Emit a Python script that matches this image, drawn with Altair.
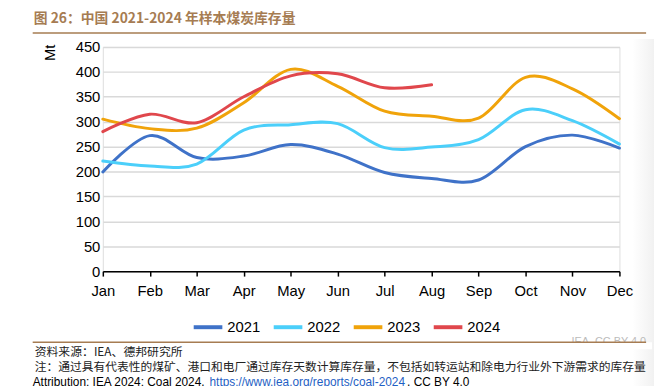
import altair as alt
import pandas as pd

months = ["Jan", "Feb", "Mar", "Apr", "May", "Jun", "Jul", "Aug", "Sep", "Oct", "Nov", "Dec"]
years = ["2021", "2022", "2023", "2024"]
v2021 = [199, 272, 228, 231, 254, 235, 198, 186, 183, 250, 273, 247]
v2022 = [221, 211, 215, 283, 294, 296, 248, 249, 264, 324, 302, 255]
v2023 = [305, 286, 287, 338, 405, 371, 321, 311, 307, 389, 366, 306]
v2024 = [280, 315, 298, 350, 392, 396, 368, 374]
colors = ["#3F72C8", "#4BCFFA", "#F0A30A", "#E0474C"]
y_ticks = [0, 50, 100, 150, 200, 250, 300, 350, 400, 450]

title_text = "图 26：中国 2021-2024 年样本煤炭库存量"
source_text = "资料来源：IEA、德邦研究所"
note_text = "注：通过具有代表性的煤矿、港口和电厂通过库存天数计算库存量，不包括如转运站和除电力行业外下游需求的库存量"
attr1 = "Attribution: IEA 2024: Coal 2024, "
attr_url = "https://www.iea.org/reports/coal-2024"
attr3 = ", CC BY 4.0"
wm_text = "IEA. CC BY 4.0"

rows = []
for yr, vals in zip(years, [v2021, v2022, v2023, v2024]):
    for m, v in zip(months, vals):
        rows.append({"month": m, "year": yr, "value": v})
df = pd.DataFrame(rows)

W, H = 523, 227
BROWN = "#A67C52"
one = pd.DataFrame({"a": [0]})

lines = alt.Chart(df).mark_line(interpolate="cardinal", strokeWidth=3, strokeCap="round").encode(
    x=alt.X("month:O", sort=months, scale=alt.Scale(type="point", padding=0),
            axis=alt.Axis(title=None, labelAngle=0, domainColor="black", domainWidth=1.5,
                          tickColor="black", tickWidth=1.5, tickSize=5, labelPadding=8,
                          grid=False, labelFontSize=15, labelFont="Liberation Sans",
                          labelColor="black", zindex=1)),
    y=alt.Y("value:Q", scale=alt.Scale(domain=[0, 450], nice=False, zero=True),
            axis=alt.Axis(title=None, values=y_ticks, domain=False, ticks=False,
                          labelPadding=3, gridColor="#D9D9D9", gridWidth=1.5,
                          labelFontSize=15, labelFont="Liberation Sans", labelColor="black")),
    color=alt.Color("year:N", scale=alt.Scale(domain=years, range=colors),
                    legend=alt.Legend(title=None, orient="none", legendX=90, legendY=267,
                                      direction="horizontal", symbolType="stroke",
                                      symbolStrokeWidth=4, symbolSize=841,
                                      labelFontSize=15, labelFont="Liberation Sans",
                                      labelColor="black", columnPadding=5, labelOffset=3)),
)

grad = alt.Chart(one).mark_rect(
    color=alt.LinearGradient(gradient="linear",
                             stops=[alt.GradientStop(color="#FFFFFF", offset=0),
                                    alt.GradientStop(color="#F0F0F0", offset=1)],
                             x1=0, x2=1, y1=0, y2=0)
).encode(x=alt.value(536), x2=alt.value(560), y=alt.value(-8), y2=alt.value(360))

def txt(s, x, y, size, color="black", weight="normal", font="Noto Sans CJK SC",
        align="left", baseline="middle", angle=0):
    return alt.Chart(one).mark_text(text=s, fontSize=size, color=color, fontWeight=weight,
                                    font=font, align=align, baseline=baseline,
                                    angle=angle).encode(x=alt.value(x), y=alt.value(y))

def rule(x1, x2, y, color=BROWN, w=1.5):
    return alt.Chart(one).mark_rule(color=color, strokeWidth=w).encode(
        x=alt.value(x1), x2=alt.value(x2), y=alt.value(y))

title = txt(title_text, -70, -28, 14, color=BROWN, weight="bold")
top_rule = rule(-71, 550, -14)
mt = txt("Mt", -53, 6, 15, font="Liberation Sans", align="center", angle=270)
wm = txt(wm_text, 550, 302, 11, color="#BBBBBB", font="Liberation Sans", align="right",
         baseline="alphabetic")
cover = alt.Chart(one).mark_rect(color="white").encode(
    x=alt.value(440), x2=alt.value(556), y=alt.value(299), y2=alt.value(306))
bot_rule = rule(-71, 550, 299)
src = txt(source_text, -69, 309, 12, color="#222222")
note = txt(note_text, -69, 324, 11.9, color="#222222")
a1 = txt(attr1, -71, 343, 12, font="Liberation Sans", baseline="alphabetic")
a2 = txt(attr_url, 108, 343, 12, color="#1F5FC4", font="Liberation Sans", baseline="alphabetic")
a3 = txt(attr3, 308, 343, 12, font="Liberation Sans", baseline="alphabetic")

chart = alt.layer(grad, lines, title, top_rule, mt, wm, cover, bot_rule, src, note, a1, a2, a3).properties(
    width=W, height=H,
    autosize=alt.AutoSizeParams(type="none"),
    padding={"left": 96, "top": 37, "right": 35, "bottom": 126},
).configure_view(stroke=None).configure(background="white")

chart.save("out.html", embed_options={"renderer": "svg", "actions": False})
